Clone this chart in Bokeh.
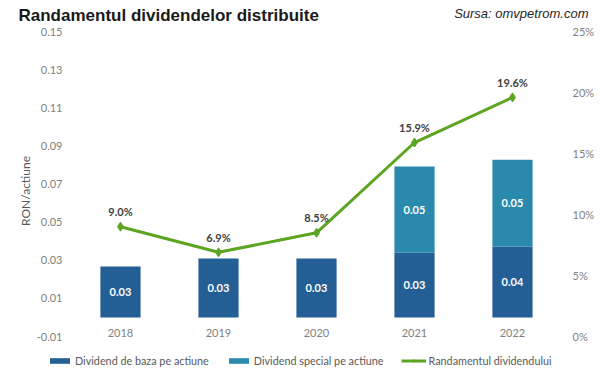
from bokeh.plotting import figure
from bokeh.models import (Range1d, LinearAxis, FixedTicker, NumeralTickFormatter,
                          PrintfTickFormatter, Label, Legend, LegendItem,
                          ColumnDataSource)
from bokeh.core.properties import value
from bokeh.embed import file_html
from bokeh.resources import INLINE

# ---- data ----
years = ["2018", "2019", "2020", "2021", "2022"]
base_div = [0.0267, 0.0309, 0.0309, 0.0340, 0.0372]
special_div = [0.0, 0.0, 0.0, 0.0452, 0.0455]
yield_pct = [9.0, 6.9, 8.5, 15.9, 19.6]
base_labels = ["0.03", "0.03", "0.03", "0.03", "0.04"]
special_labels = ["", "", "", "0.05", "0.05"]
yield_labels = ["9.0%", "6.9%", "8.5%", "15.9%", "19.6%"]
left_ticks = [-0.01, 0.01, 0.03, 0.05, 0.07, 0.09, 0.11, 0.13, 0.15]
right_ticks = [0, 5, 10, 15, 20, 25]
title_text = "Randamentul dividendelor distribuite"
source_text = "Sursa: omvpetrom.com"

BASE = "#235E94"
SPEC = "#2A8AAE"
GREEN = "#5DA421"
AXIS_TXT = "#7F7F7F"
LBL_TXT = "#404040"
FONT = "Lato"

W, H = 600, 381
# plot-area box inside the canvas (pixels)
PA_L, PA_R, PA_T, PA_B = 71, 561, 31, 336
L_MIN, L_MAX = -0.01, 0.15
R_MIN, R_MAX = 0, 25

n = len(years)
xs = list(range(n))
x_per_px = n / (PA_R - PA_L)
ly_per_px = (L_MAX - L_MIN) / (PA_B - PA_T)
ry_per_px = (R_MAX - R_MIN) / (PA_B - PA_T)

total_div = [b + s for b, s in zip(base_div, special_div)]
src = ColumnDataSource(dict(
    x=xs,
    base=base_div,
    total=total_div,
    base_mid=[b / 2 for b in base_div],
    spec_mid=[b + s / 2 for b, s in zip(base_div, special_div)],
    base_lbl=base_labels,
    spec_lbl=special_labels,
))

p = figure(width=W, height=H,
           x_range=Range1d(-0.5 - PA_L * x_per_px, n - 0.5 + (W - PA_R) * x_per_px),
           y_range=Range1d(L_MIN - (H - PA_B) * ly_per_px, L_MAX + PA_T * ly_per_px),
           output_backend="svg", toolbar_location=None, min_border=0)
p.extra_y_ranges = {"pct": Range1d(R_MIN - (H - PA_B) * ry_per_px,
                                   R_MAX + PA_T * ry_per_px)}
p.grid.visible = False
p.outline_line_color = None

r_base = p.vbar(x="x", bottom=0, top="base", width=0.41, fill_color=BASE,
                line_color=None, source=src)
r_spec = p.vbar(x="x", bottom="base", top="total", width=0.41, fill_color=SPEC,
                line_color=None, source=src)

r_line = p.line(x=xs, y=yield_pct, y_range_name="pct", line_width=3,
                line_color=GREEN)
r_pts = p.scatter(x=xs, y=yield_pct, y_range_name="pct", marker="diamond",
                  size=9, fill_color=GREEN, line_color=GREEN)

p.text(x="x", y="base_mid", text="base_lbl", source=src, text_color="white",
       text_font=value(FONT), text_font_size="11px", text_font_style="bold",
       text_align="center", text_baseline="middle")
p.text(x="x", y="spec_mid", text="spec_lbl", source=src, text_color="white",
       text_font=value(FONT), text_font_size="11px", text_font_style="bold",
       text_align="center", text_baseline="middle")
p.text(x=xs, y=yield_pct, text=yield_labels, y_range_name="pct",
       y_offset=-15, text_color=LBL_TXT, text_font=value(FONT),
       text_font_size="11px", text_font_style="bold",
       text_align="center", text_baseline="middle")

# horizontal axis crosses at 0
xa = p.xaxis[0]
xa.fixed_location = 0
xa.ticker = FixedTicker(ticks=xs)
xa.major_label_overrides = {i: y for i, y in zip(xs, years)}
xa.major_label_standoff = 12

# left axis
ya = p.yaxis[0]
ya.fixed_location = -0.5
ya.ticker = FixedTicker(ticks=left_ticks)
ya.formatter = NumeralTickFormatter(format="0.00")
ya.axis_label = "RON/actiune"
ya.axis_label_text_font = FONT
ya.axis_label_text_font_size = "12px"
ya.axis_label_text_font_style = "normal"
ya.axis_label_text_color = "#595959"
ya.axis_label_standoff = 1
ya.major_label_standoff = 9

# right axis
ra = LinearAxis(y_range_name="pct", ticker=FixedTicker(ticks=right_ticks),
                formatter=PrintfTickFormatter(format="%d%%"))
ra.fixed_location = n - 0.5
ra.major_label_standoff = 11
p.add_layout(ra, "right")

for ax in [xa, ya, ra]:
    ax.axis_line_color = None
    ax.major_tick_line_color = None
    ax.minor_tick_line_color = None
    ax.major_tick_out = 0
    ax.major_tick_in = 0
    ax.minor_tick_out = 0
    ax.minor_tick_in = 0
    ax.major_label_text_font = FONT
    ax.major_label_text_font_size = "11px"
    ax.major_label_text_color = AXIS_TXT

# title and source
p.add_layout(Label(x=18, y=H - 15, x_units="screen", y_units="screen",
                   text=title_text, text_font="Liberation Sans",
                   text_font_size="17px", text_font_style="bold",
                   text_color="#1a1a1a", text_baseline="alphabetic",
                   text_align="left"))
p.add_layout(Label(x=588, y=H - 13, x_units="screen", y_units="screen",
                   text=source_text, text_font="Liberation Sans",
                   text_font_size="13px", text_font_style="italic",
                   text_color="#262626", text_baseline="alphabetic",
                   text_align="right"))

legend = Legend(items=[
    LegendItem(label="Dividend de baza pe actiune", renderers=[r_base]),
    LegendItem(label="Dividend special pe actiune", renderers=[r_spec]),
    LegendItem(label="Randamentul dividendului", renderers=[r_line, r_pts]),
], orientation="horizontal", location=(47, H - 367))
legend.padding = 0
legend.margin = 0
legend.border_line_alpha = 0
legend.background_fill_alpha = 0
legend.glyph_width = 25
legend.glyph_height = 7
legend.label_height = 14
legend.label_standoff = 3
legend.spacing = 17
legend.label_text_font = FONT
legend.label_text_font_size = "10.8px"
legend.label_text_color = "#595959"
p.add_layout(legend)

open("out.html", "w").write(file_html(p, INLINE))
